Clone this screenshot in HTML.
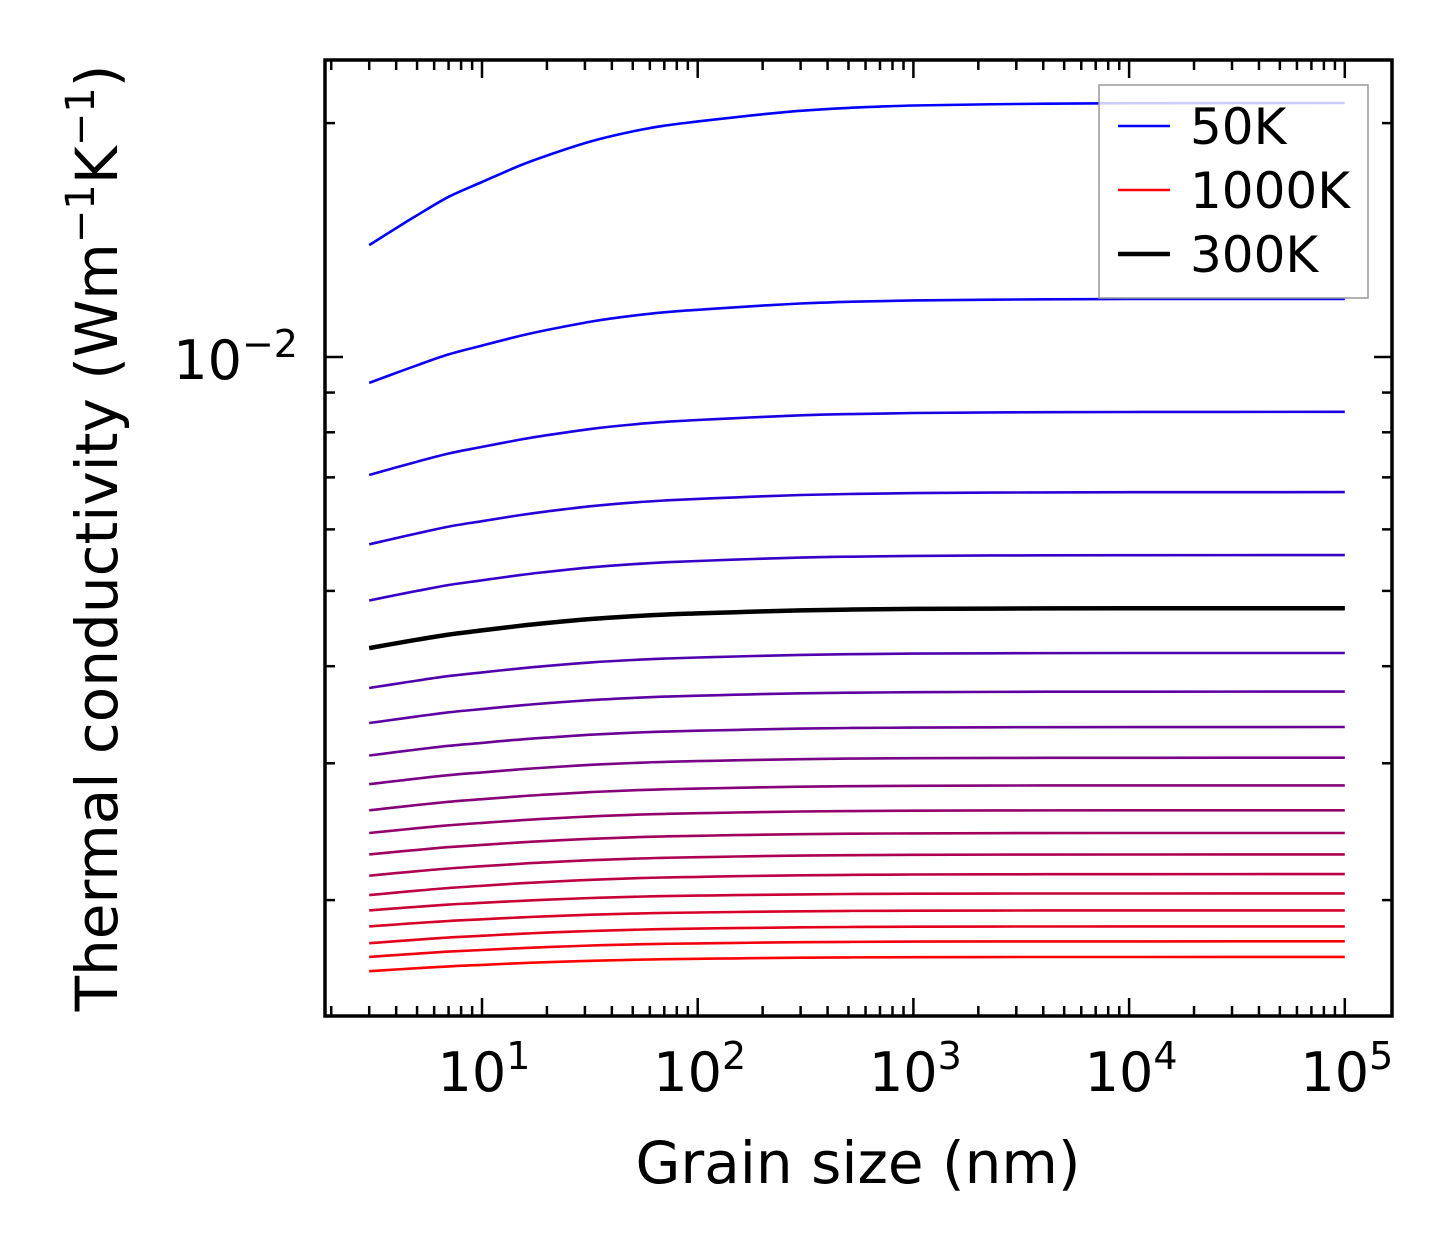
<!DOCTYPE html>
<html><head><meta charset="utf-8"><style>
html,body{margin:0;padding:0;background:#fff;}
svg{display:block;font-family:"DejaVu Sans","Liberation Sans",sans-serif;}
</style></head><body>
<svg id="chart" width="1454" height="1254" viewBox="0 0 1454 1254" xmlns="http://www.w3.org/2000/svg">
<g id="lines"></g>
<g id="axes"></g>
<g id="legend"></g>
</svg>
<script>
// Data
const temperatures = [50,100,150,200,250,300,350,400,450,500,550,600,650,700,750,800,850,900,950,1000];
const kStart = [0.01393,0.00926,0.00705,0.00574,0.00486,0.00422,0.00375,0.00338,0.00307,0.00282,0.00261,0.00244,0.00229,0.00215,0.00203,0.00194,0.00185,0.00176,0.00169,0.00162];
const kEnd   = [0.02123,0.01188,0.00850,0.00670,0.00556,0.00475,0.00416,0.00371,0.00334,0.00305,0.00281,0.00261,0.00244,0.00229,0.00216,0.00204,0.00194,0.00185,0.00177,0.00169];
const grainSizes = [3,4,5,7,10,15,20,32,50,70,100,150,200,300,500,1000,3000,10000,100000];
const approachFrac = [1,0.88,0.79,0.66,0.556,0.44,0.37,0.27,0.2,0.16,0.13,0.1,0.08,0.055,0.035,0.018,0.007,0.002,0];
const xTickLabels = ['1','2','3','4','5'];

const NS='http://www.w3.org/2000/svg';
const L=325,R=1392,T=60,B=1016;
function xs(v){return 482+(Math.log10(v)-1)*215.7;}
function ys(v){return 357-(Math.log10(v)+2)*777;}
function mk(tag,attrs,parent){const e=document.createElementNS(NS,tag);for(const k in attrs)e.setAttribute(k,attrs[k]);parent.appendChild(e);return e;}
function smoothPath(p){
  let d='M'+p[0][0].toFixed(1)+','+p[0][1].toFixed(1);
  for(let i=0;i<p.length-1;i++){
    const p0=p[Math.max(0,i-1)],p1=p[i],p2=p[i+1],p3=p[Math.min(p.length-1,i+2)];
    const c1=[p1[0]+(p2[0]-p0[0])/6,p1[1]+(p2[1]-p0[1])/6];
    const c2=[p2[0]-(p3[0]-p1[0])/6,p2[1]-(p3[1]-p1[1])/6];
    d+=' C'+c1[0].toFixed(1)+','+c1[1].toFixed(1)+' '+c2[0].toFixed(1)+','+c2[1].toFixed(1)+' '+p2[0].toFixed(1)+','+p2[1].toFixed(1);
  }
  return d;
}

const lines=document.getElementById('lines');
temperatures.forEach((t,i)=>{
  const f=i/(temperatures.length-1);
  const col='rgb('+Math.round(255*f)+',0,'+Math.round(255*(1-f))+')';
  const ls=Math.log10(kStart[i]),le=Math.log10(kEnd[i]);
  const pts=grainSizes.map((g,j)=>{const v=Math.pow(10,le+(ls-le)*approachFrac[j]);return [xs(g),ys(v)];});
  const d=smoothPath(pts);
  const p=mk('path',{d:d,fill:'none',stroke:col,'stroke-width':2.6},lines);
  
  
  if(t===300){
    const b=mk('path',{d:d,fill:'none',stroke:'#000','stroke-width':4.5},lines);
    
    
  }
});

const ax=document.getElementById('axes');
for(let d=0;d<=5;d++){
  for(let m=1;m<=9;m++){
    const v=m*Math.pow(10,d);const x=xs(v);
    if(x<L+2||x>R-2)continue;
    const len=m===1?18:10;
    mk('line',{x1:x,y1:B,x2:x,y2:B-len,stroke:'#000','stroke-width':2.5},ax);
    mk('line',{x1:x,y1:T,x2:x,y2:T+len,stroke:'#000','stroke-width':2.5},ax);
  }
}
xTickLabels.forEach(s=>{
  const x=xs(Math.pow(10,+s));
  const t=mk('text',{x:x+2,y:1091,'font-size':54,'text-anchor':'middle',fill:'#000'},ax);
  
  
  t.innerHTML='10<tspan dy="-22" font-size="38">'+s+'</tspan>';
});
for(let d=-3;d<=-1;d++){
  for(let m=1;m<=9;m++){
    const v=m*Math.pow(10,d);const y=ys(v);
    if(y<T+2||y>B-2)continue;
    const len=m===1?18:10;
    mk('line',{x1:L,y1:y,x2:L+len,y2:y,stroke:'#000','stroke-width':2.5},ax);
    mk('line',{x1:R,y1:y,x2:R-len,y2:y,stroke:'#000','stroke-width':2.5},ax);
  }
}
const yl=mk('text',{x:298,y:ys(0.01)+22,'font-size':54,'text-anchor':'end',fill:'#000'},ax);


yl.innerHTML='10<tspan dy="-22" font-size="38">−2</tspan>';
const fr=mk('rect',{x:L,y:T,width:R-L,height:B-T,fill:'none',stroke:'#000','stroke-width':3.5},ax);


const xt=mk('text',{x:858,y:1183,'font-size':58,'text-anchor':'middle',fill:'#000'},ax);


xt.textContent='Grain size (nm)';
const yt=mk('text',{x:0,y:0,'font-size':58,'text-anchor':'middle',fill:'#000',transform:'translate(117,538) rotate(-90)'},ax);


yt.innerHTML='Thermal conductivity (Wm<tspan dy="-23" font-size="40">−1</tspan><tspan dy="23">K</tspan><tspan dy="-23" font-size="40">−1</tspan><tspan dy="23">)</tspan>';

const lg=document.getElementById('legend');
const box=mk('rect',{x:1099,y:85,width:269,height:213,fill:'rgba(255,255,255,0.8)',stroke:'#999','stroke-width':1.5},lg);


[['50K','rgb(0,0,255)',2.6,126],['1000K','rgb(255,0,0)',2.6,190],['300K','#000',4.5,254]].forEach(e=>{
  const g=mk('g',{},lg);
  
  
  mk('line',{x1:1118,y1:e[3],x2:1170,y2:e[3],stroke:e[1],'stroke-width':e[2]},g);
  const t=mk('text',{x:1190,y:e[3]+18,'font-size':50,fill:'#000'},g);
  t.textContent=e[0];
});
</script>
</body></html>
